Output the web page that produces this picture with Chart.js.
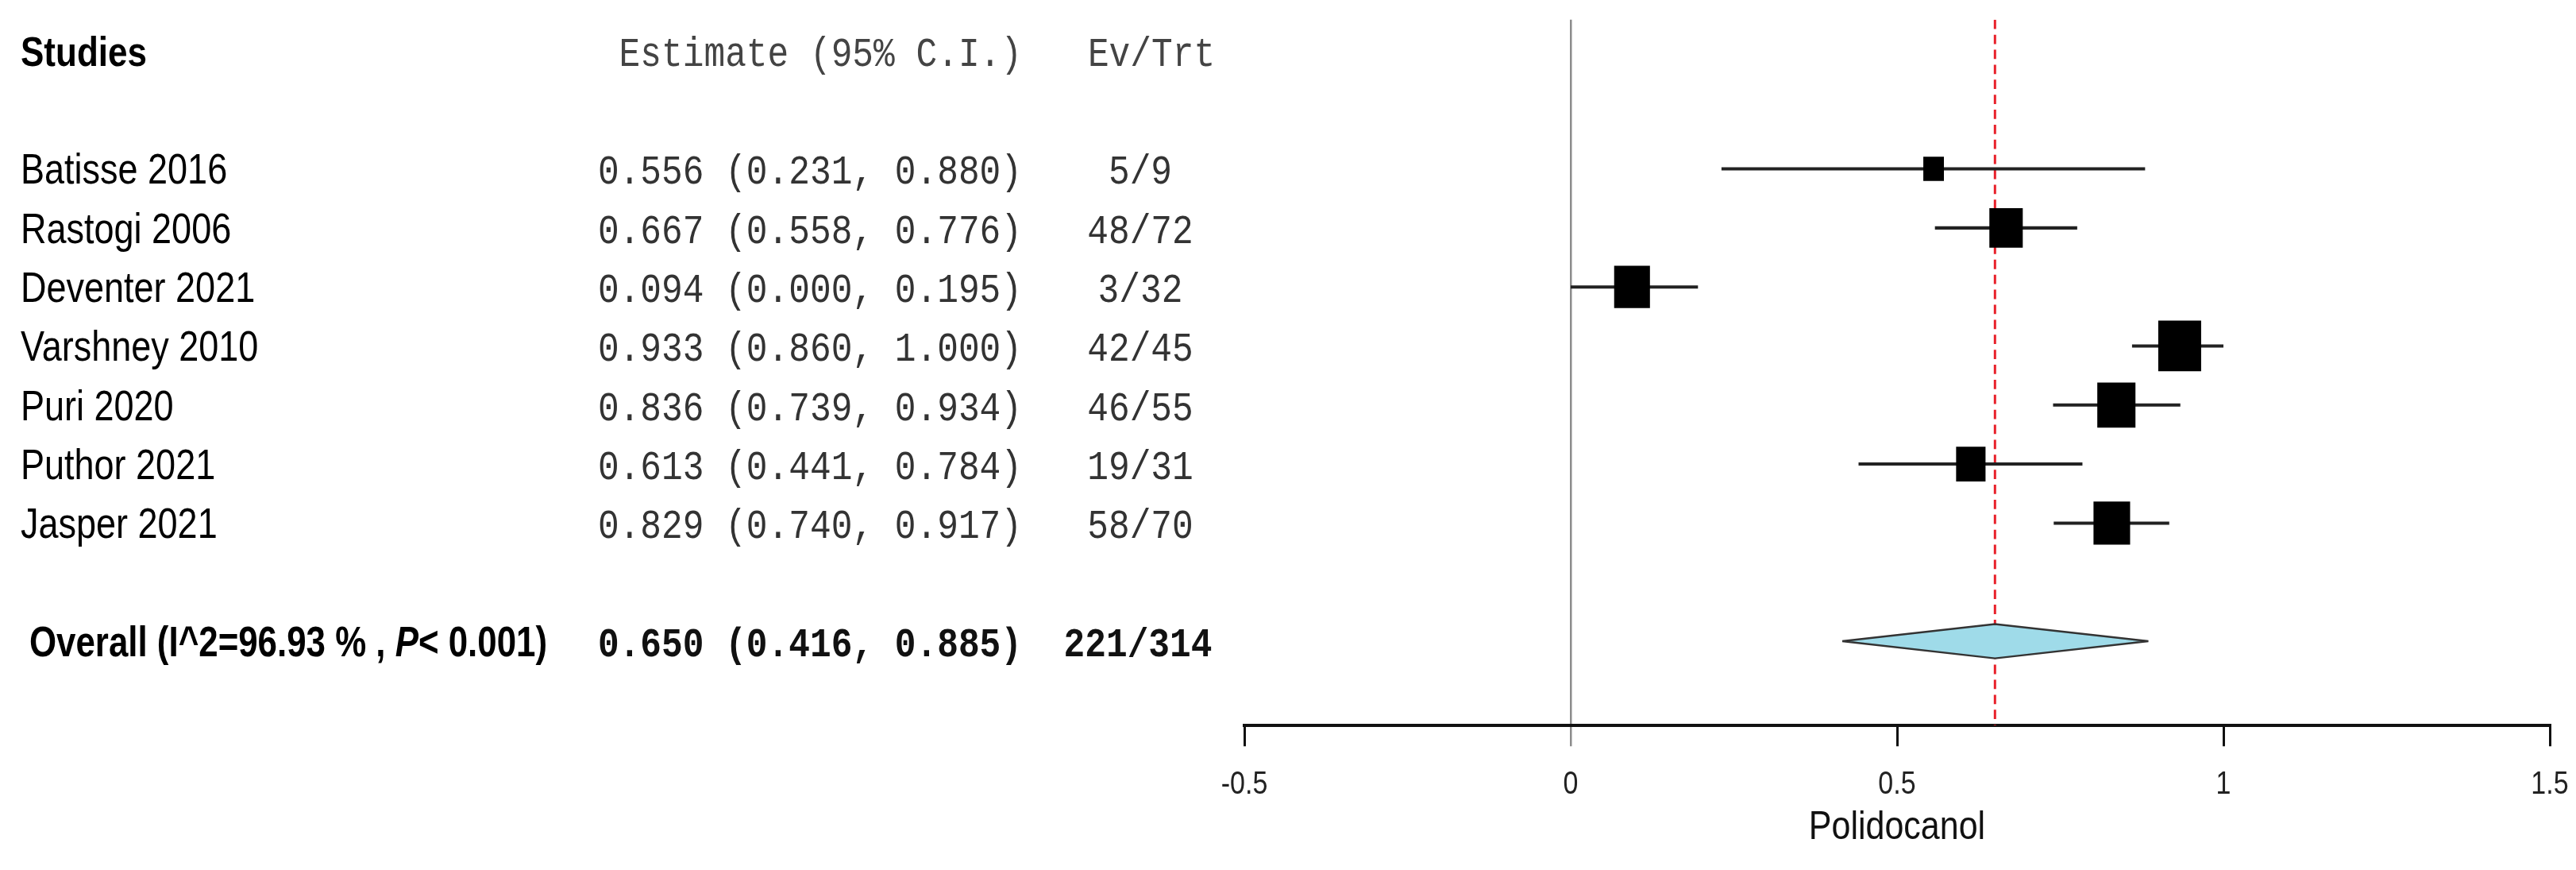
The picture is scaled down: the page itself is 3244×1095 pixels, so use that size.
<!DOCTYPE html>
<html>
<head>
<meta charset="utf-8">
<script src="https://cdn.jsdelivr.net/npm/chart.js@4.4.1/dist/chart.umd.min.js"></script>
<style>
  html, body { margin: 0; padding: 0; background: #fff; }
  canvas { display: block; }
</style>
</head>
<body>
<canvas id="forest" width="3244" height="1095"></canvas>
<script>
const studies = ["Batisse 2016", "Rastogi 2006", "Deventer 2021", "Varshney 2010", "Puri 2020", "Puthor 2021", "Jasper 2021"];
const estimate = [0.556, 0.667, 0.094, 0.933, 0.836, 0.613, 0.829];
const ciLower = [0.231, 0.558, 0.000, 0.860, 0.739, 0.441, 0.740];
const ciUpper = [0.880, 0.776, 0.195, 1.000, 0.934, 0.784, 0.917];
const events = [5, 48, 3, 42, 46, 19, 58];
const treated = [9, 72, 32, 45, 55, 31, 70];
// study weights (%)
const weights = [5.1, 13.4, 15.4, 22.1, 17.5, 10.4, 16.1];
const pooled = [0.650, 0.416, 0.885]; // estimate, lower, upper
const i2 = "96.93";
const pValue = "0.001";
const xTicks = [-0.5, 0, 0.5, 1, 1.5];

// the picture is stretched vertically, so draw in a squashed frame and scale y back up
const W = 3244, H = 1095;
const STRETCH = 1.18;
const LOGICAL_H = H / STRETCH;
const TOP_Y = 21, AXIS_Y = 774, ROW0_Y = 54.2, ROW_H = 62.97;
const yMin = (TOP_Y - ROW0_Y) / ROW_H;
const yMax = (AXIS_Y - ROW0_Y) / ROW_H;
const studyRow = studies.map((_, i) => i + 2);
const overallRow = studies.length + 3;

const NAME_X = 26, CI_RIGHT = 1287, EV_X = 1436, EV_HEAD_X = 1450;
const BOX_K = 11.49;
const DIAMOND_H = 0.29;

Chart.defaults.font.family = '"Liberation Sans", Arial, sans-serif';

const whiskers = [];
studies.forEach((_, i) => {
  whiskers.push({x: ciLower[i], y: studyRow[i]}, {x: ciUpper[i], y: studyRow[i]}, {x: null, y: null});
});

const boxes = studies.map((_, i) => ({x: estimate[i], y: studyRow[i]}));

const diamond = [
  {x: pooled[1], y: overallRow},
  {x: pooled[0], y: overallRow - DIAMOND_H},
  {x: pooled[2], y: overallRow},
  {x: pooled[0], y: overallRow + DIAMOND_H},
  {x: pooled[1], y: overallRow}
];

const textPlugin = {
  id: 'forestText',
  beforeDraw(chart) {
    const ctx = chart.ctx;
    ctx.save();
    ctx.fillStyle = '#fff';
    ctx.fillRect(0, 0, W, H);
    ctx.scale(1, STRETCH);
  },
  afterDraw(chart) {
    const ctx = chart.ctx;
    const ys = chart.scales.y;
    const base = r => ys.getPixelForValue(r) + 16;
    ctx.textBaseline = 'alphabetic';

    // header row
    ctx.fillStyle = '#000';
    ctx.textAlign = 'left';
    ctx.font = 'bold 44px "Liberation Sans"';
    ctx.fillText('Studies', NAME_X, base(0));
    ctx.fillStyle = '#444';
    ctx.font = '44.5px "Liberation Mono"';
    ctx.textAlign = 'right';
    ctx.fillText('Estimate (95% C.I.)', CI_RIGHT, base(0));
    ctx.textAlign = 'center';
    ctx.fillText('Ev/Trt', EV_HEAD_X, base(0));

    // studies
    studies.forEach((name, i) => {
      const yb = base(studyRow[i]);
      ctx.fillStyle = '#000';
      ctx.textAlign = 'left';
      ctx.font = '45px "Liberation Sans"';
      ctx.fillText(name, NAME_X, yb);
      ctx.fillStyle = '#333';
      ctx.font = '44.5px "Liberation Mono"';
      ctx.textAlign = 'right';
      ctx.fillText(`${estimate[i].toFixed(3)} (${ciLower[i].toFixed(3)}, ${ciUpper[i].toFixed(3)})`, CI_RIGHT, yb);
      ctx.textAlign = 'center';
      ctx.fillText(`${events[i]}/${treated[i]}`, EV_X, yb);
    });

    // overall row, squeezed label with italic P
    const yo = base(overallRow);
    const parts = [
      [`Overall (I^2=${i2} % , `, 'bold 46px "Liberation Sans"'],
      ['P', 'italic bold 46px "Liberation Sans"'],
      [`< ${pValue})`, 'bold 46px "Liberation Sans"']
    ];
    let total = 0;
    parts.forEach(p => { ctx.font = p[1]; total += ctx.measureText(p[0]).width; });
    ctx.save();
    ctx.translate(37, yo);
    ctx.scale(652 / total, 1);
    ctx.fillStyle = '#000';
    ctx.textAlign = 'left';
    let px = 0;
    parts.forEach(p => {
      ctx.font = p[1];
      ctx.fillText(p[0], px, 0);
      px += ctx.measureText(p[0]).width;
    });
    ctx.restore();

    const sumEv = events.reduce((a, b) => a + b, 0);
    const sumTrt = treated.reduce((a, b) => a + b, 0);
    ctx.fillStyle = '#111';
    ctx.font = 'bold 44.5px "Liberation Mono"';
    ctx.textAlign = 'right';
    ctx.fillText(`${pooled[0].toFixed(3)} (${pooled[1].toFixed(3)}, ${pooled[2].toFixed(3)})`, CI_RIGHT, yo);
    ctx.textAlign = 'center';
    ctx.fillText(`${sumEv}/${sumTrt}`, EV_X - 3, yo);

    ctx.restore();
  }
};

const isZero = c => c.tick && c.tick.value === 0;

new Chart(document.getElementById('forest'), {
  type: 'scatter',
  data: {
    datasets: [
      {
        data: diamond,
        showLine: true,
        fill: 'shape',
        backgroundColor: '#9fdbe9',
        borderColor: '#333',
        borderWidth: 2,
        pointRadius: 0
      },
      {
        data: boxes,
        pointStyle: 'rect',
        pointRadius: c => BOX_K * Math.sqrt(weights[c.dataIndex]) / Math.SQRT2,
        backgroundColor: '#000',
        borderWidth: 0
      },
      {
        data: whiskers,
        showLine: true,
        spanGaps: false,
        borderColor: '#222',
        borderWidth: 3.4,
        pointRadius: 0
      },
      {
        data: [{x: pooled[0], y: yMin}, {x: pooled[0], y: yMax}],
        showLine: true,
        borderColor: '#e8202a',
        borderWidth: 3,
        borderDash: [10, 6],
        pointRadius: 0
      }
    ]
  },
  options: {
    responsive: false,
    animation: false,
    devicePixelRatio: 1,
    events: [],
    layout: {
      autoPadding: false,
      padding: { left: 1567, right: 33, top: TOP_Y, bottom: H - LOGICAL_H }
    },
    plugins: {
      legend: { display: false },
      tooltip: { enabled: false }
    },
    scales: {
      x: {
        type: 'linear',
        min: -0.5,
        max: 1.5,
        afterBuildTicks: s => { s.ticks = xTicks.map(v => ({value: v})); },
        afterFit: s => {
          s.height = LOGICAL_H - AXIS_Y;
          s.paddingLeft = 0;
          s.paddingRight = 0;
        },
        border: { display: true, color: '#111', width: 3.4 },
        grid: {
          drawOnChartArea: true,
          drawTicks: true,
          tickLength: 22,
          color: c => isZero(c) ? '#8c8c8c' : 'rgba(0,0,0,0)',
          lineWidth: c => isZero(c) ? 2.5 : 3,
          tickColor: c => isZero(c) ? '#8c8c8c' : '#111',
          tickWidth: c => isZero(c) ? 2.5 : 3
        },
        ticks: {
          color: '#222',
          font: { size: 34 },
          padding: 21,
          maxRotation: 0,
          callback: v => String(v)
        },
        title: {
          display: true,
          text: 'Polidocanol',
          color: '#111',
          font: { size: 43 },
          padding: { top: 0, bottom: 19 }
        }
      },
      y: {
        type: 'linear',
        display: false,
        reverse: true,
        min: yMin,
        max: yMax
      }
    }
  },
  plugins: [textPlugin]
});
</script>
</body>
</html>
